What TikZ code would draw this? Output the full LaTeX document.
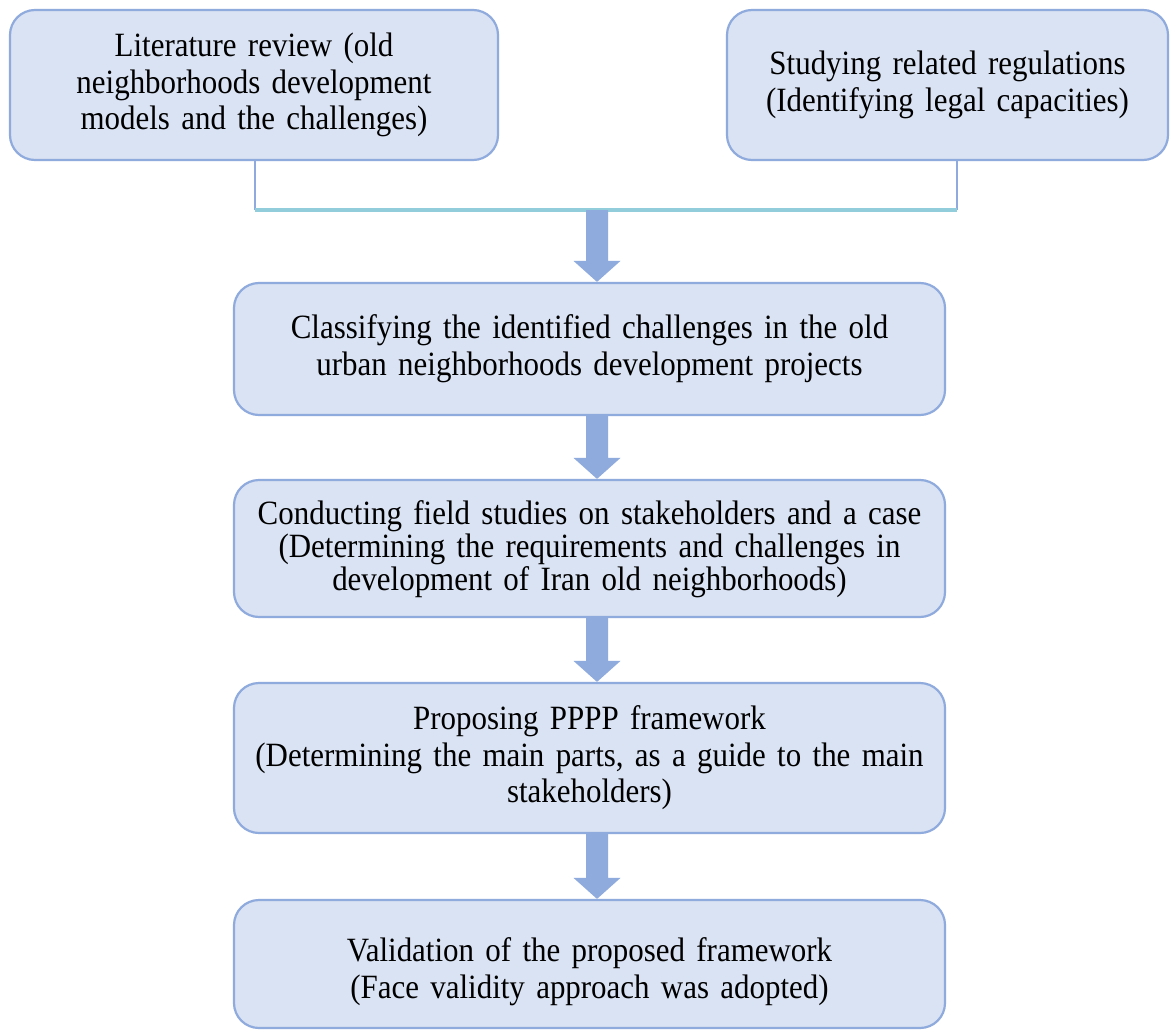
\documentclass[tikz,border=0pt]{standalone}
\usepackage{fontspec}
\setmainfont{Liberation Serif}[FakeStretch=0.91]
\usetikzlibrary{calc}
\definecolor{boxfill}{HTML}{DAE3F3}
\definecolor{boxline}{HTML}{8FAADC}
\definecolor{joinline}{HTML}{92CDDC}
% block arrow from point #1 down to point #2
\newcommand{\flowarrow}[2]{%
  \fill[boxline] ($(#1)+(-11,0)$) -- ($(#2)+(-11,-21)$) -- ($(#2)+(-23.5,-21)$) -- (#2)
    -- ($(#2)+(23.5,-21)$) -- ($(#2)+(11,-21)$) -- ($(#1)+(11,0)$) -- cycle;}

\begin{document}
\begin{tikzpicture}[x=1pt,y=-1pt,
    stage/.style={draw=boxline,fill=boxfill,line width=2.2pt,rounded corners=25pt,
      align=center,inner sep=0pt,font=\fontsize{34}{36.7}\selectfont},
    stagetext/.style={align=center,inner sep=0pt,text width=705}]
    \fill[white] (0,0) rectangle (1170,1030);
    \useasboundingbox (0,0) rectangle (1170,1030);
    % top row
    \node[stage,minimum width=488,minimum height=150,text width=470] (lit) at (254,85)
      {Literature review (old\\ neighborhoods development\\ models and the challenges)};
    \node[stage,minimum width=441,minimum height=150,text width=430] (reg) at (947.5,85)
      {Studying related regulations\\ (Identifying legal capacities)};
    % main column
    \node[stage,minimum width=711,minimum height=132,text width=705] (cls) at (589.5,349)
      {Classifying the identified challenges in the old\\ urban neighborhoods development projects};
    \node[stage,minimum width=711,minimum height=137] (fld) at (589.5,548.5) {};
    \begin{scope}
      \clip (234,480) rectangle (945,601);
      \node[stagetext,font=\fontsize{34}{33}\selectfont] (fldtext) at ($(fld)+(0,1)$)
        {Conducting field studies on stakeholders and a case\\ (Determining the requirements and challenges in\\ development of Iran old neighborhoods)};
    \end{scope}
    \node[stage,minimum width=711,minimum height=150,text width=705,font=\fontsize{34}{36.5}\selectfont] (ppp) at (589.5,758)
      {Proposing PPPP framework\\ (Determining the main parts, as a guide to the main\\ stakeholders)};
    \node[stage,minimum width=711,minimum height=128] (val) at (589.5,964) {};
    \node[stagetext,font=\fontsize{34}{37}\selectfont] (valtext) at ($(val)+(0,8)$)
      {Validation of the proposed framework\\ (Face validity approach was adopted)};
    % joining lines
    \coordinate (arx) at (597,0);
    \coordinate (litfoot) at (255,210);
    \coordinate (regfoot) at (957,210);
    \coordinate (join) at (arx |- litfoot);
    \draw[boxline,line width=2.5pt] (lit.south -| litfoot) -- (litfoot);
    \draw[boxline,line width=2.5pt] (reg.south -| regfoot) -- (regfoot);
    \draw[joinline,line width=4pt] (litfoot) -- (regfoot);
    % arrows
    \coordinate (a1) at (cls.north -| arx);
    \coordinate (b2) at (cls.south -| arx);
    \coordinate (a2) at (fld.north -| arx);
    \coordinate (b3) at (fld.south -| arx);
    \coordinate (a3) at (ppp.north -| arx);
    \coordinate (b4) at (ppp.south -| arx);
    \coordinate (a4) at (val.north -| arx);
    \flowarrow{join}{a1}
    \flowarrow{b2}{a2}
    \flowarrow{b3}{a3}
    \flowarrow{b4}{a4}
  \end{tikzpicture}
\end{document}
